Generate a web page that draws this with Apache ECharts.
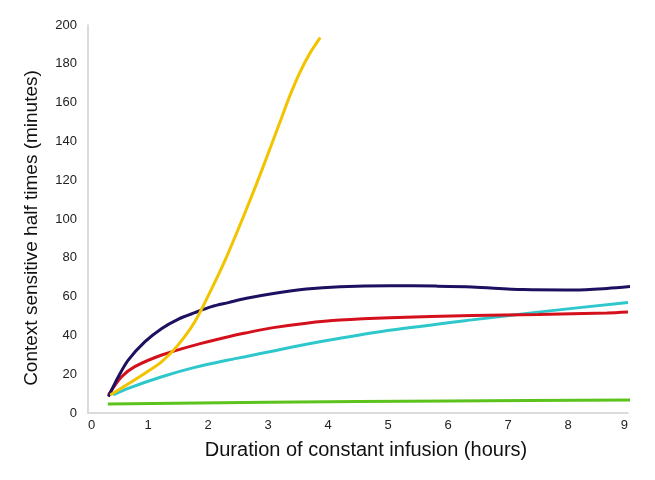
<!DOCTYPE html>
<html>
<head>
<meta charset="utf-8">
<script src="https://cdn.jsdelivr.net/npm/echarts@6/dist/echarts.min.js"></script>
<style>html,body{margin:0;padding:0;background:#fff}#c{width:655px;height:480px}</style>
</head>
<body>
<div id="c"></div>
<script>
var xTicks = [0,1,2,3,4,5,6,7,8,9];
var yTicks = [0,20,40,60,80,100,120,140,160,180,200];

var yellowX = [0.37,0.67,0.95,1.23,1.5,1.78,2.06,2.31,2.64,2.92,3.2,3.37,3.53,3.7,3.87];
var yellowY = [9.3,15,20.5,26.5,35,47,64,80.5,105,127,150,164,175.5,185.5,193.5];

var navyX = [0.34,0.505,0.67,0.95,1.23,1.5,1.78,2.06,2.34,2.62,3.09,3.64,4.2,5.03,5.8,6.4,7.25,8.1,8.65,9.08];
var navyY = [8.4,18.7,27.3,36.8,43.6,48.3,51.7,54.8,56.9,59.0,61.6,63.9,65.1,65.6,65.4,65,63.6,63.4,64.2,65.3];

var redX = [0.34,0.56,0.78,1.23,1.78,2.34,2.62,3.09,3.64,4.2,5.03,6.4,7.5,8.65,9.0];
var redY = [9.3,18.7,23.9,29.9,35,39.3,41.2,44.0,46.3,47.9,49.1,50.2,50.8,51.6,52.1];

var cyanX = [0.42,0.67,1.23,1.78,2.34,2.62,3.09,3.64,4.2,5.03,6.4,7.5,9.0];
var cyanY = [9.3,12.7,18.7,23.5,27.3,29,32.0,35.4,38.5,42.6,48.0,52.0,57];

var greenX = [0.33,3,6,9.1];
var greenY = [4.6,5.6,6.2,6.7];

function pairs(xs, ys){ return xs.map(function(x,i){ return [x, ys[i]]; }); }

var chart = echarts.init(document.getElementById('c'));
function line(name, xs, ys, color){
  return {name:name, type:'line', smooth:0.3, showSymbol:false, clip:false,
    data:pairs(xs,ys), lineStyle:{color:color, width:3}, itemStyle:{color:color}};
}
chart.setOption({
  animation:false,
  backgroundColor:'#fff',
  grid:{left:88, right:27, top:25, bottom:67},
  xAxis:{type:'value', min:0, max:9, interval:1,
    name:'Duration of constant infusion (hours)', nameLocation:'middle', nameGap:27,
    nameTextStyle:{fontFamily:'Liberation Sans', fontSize:20, color:'#111', padding:[0,0,0,16]},
    axisLine:{lineStyle:{color:'#cfcfcf', width:1.5}},
    axisTick:{show:false}, splitLine:{show:false},
    axisLabel:{fontFamily:'Liberation Sans', fontSize:13, color:'#222', margin:6,
      alignMinLabel:'left', alignMaxLabel:'right'}},
  yAxis:{type:'value', min:0, max:200, interval:20,
    name:'Context sensitive half times (minutes)', nameLocation:'middle', nameGap:47,
    nameTextStyle:{fontFamily:'Liberation Sans', fontSize:19, color:'#111', padding:[0,18,0,0]},
    axisLine:{show:true, lineStyle:{color:'#cfcfcf', width:1.5}},
    axisTick:{show:false}, splitLine:{show:false},
    axisLabel:{fontFamily:'Liberation Sans', fontSize:13, color:'#222', margin:11}},
  series:[
    line('green', greenX, greenY, '#5cc21c'),
    line('cyan', cyanX, cyanY, '#2ec8cc'),
    line('red', redX, redY, '#d4101c'),
    line('navy', navyX, navyY, '#1c1160'),
    line('yellow', yellowX, yellowY, '#f2c400')
  ]
});
</script>
</body>
</html>
